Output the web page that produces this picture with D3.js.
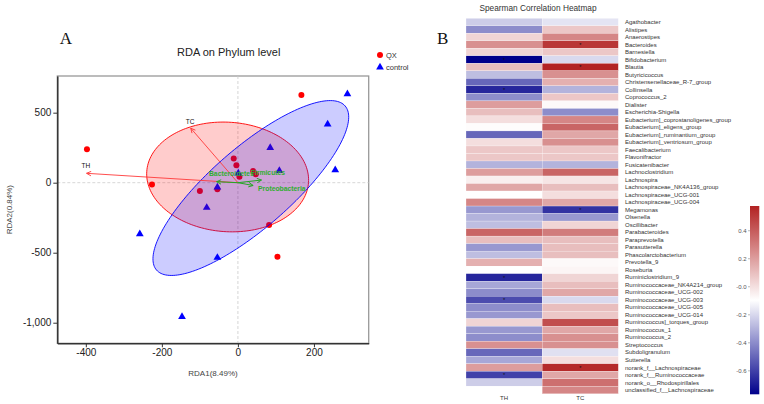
<!DOCTYPE html>
<html>
<head>
<meta charset="utf-8">
<script src="https://cdn.jsdelivr.net/npm/d3@7"></script>
<style>
body { margin: 0; background: #fff; }
text { font-family: "Liberation Sans", Arial, sans-serif; }
</style>
</head>
<body>
<div id="chart"></div>
<script>
// ---- Panel A data (RDA) ----
const qxX = [-397, -226, -100, -54, -11, -4, 4, 40, 47, 82, 104, 167];
const qxY = [239, -12, -59, -47, 172, 124, 43, 84, 60, -302, -528, 626];
const ctrlX = [-258, -147, -82, -54, -54, 1, 85, 109, 236, 256, 288];
const ctrlY = [-366, -957, -178, -33, -535, 67, 250, 86, 417, 91, 634];

const envNames = ["TH", "TC"];
const envX = [-398, -124];
const envY = [67, 389];
const envLabelX = [-400, -126];
const envLabelY = [121, 436];

const phylumNames = ["Bacteroidetes", "Firmicutes", "Proteobacteria"];
const phylumX = [-56, 62, 40];
const phylumY = [7, 19, -20];
const phylumLabelX = [-17, 79, 53];
const phylumLabelY = [67, 71, -44];

// confidence ellipses: centre + two semi-axis vectors, data units
const ellipseGroups = ["QX", "control"];
const ellipseCX = [-27, 34];
const ellipseCY = [41, -38];
const ellipseU = [[212.7, -40], [248, 586]];
const ellipseV = [[-10, -390], [69, -216]];

const xTicks = [-400, -200, 0, 200];
const yTicks = [-1000, -500, 0, 500];

// ---- Panel B data (heatmap) ----
const genera = ["Agathobacter", "Alistipes", "Anaerostipes", "Bacteroides", "Barnesiella",
  "Bifidobacterium", "Blautia", "Butyricicoccus", "Christensenellaceae_R-7_group", "Collinsella",
  "Coprococcus_2", "Dialister", "Escherichia-Shigella", "Eubacterium]_coprostanoligenes_group",
  "Eubacterium]_eligens_group", "Eubacterium]_ruminantium_group", "Eubacterium]_ventriosum_group",
  "Faecalibacterium", "Flavonifractor", "Fusicatenibacter", "Lachnoclostridium", "Lachnospira",
  "Lachnospiraceae_NK4A136_group", "Lachnospiraceae_UCG-001", "Lachnospiraceae_UCG-004",
  "Megamonas", "Olsenella", "Oscillibacter", "Parabacteroides", "Paraprevotella", "Parasutterella",
  "Phascolarctobacterium", "Prevotella_9", "Roseburia", "Ruminiclostridium_9",
  "Ruminococcaceae_NK4A214_group", "Ruminococcaceae_UCG-002", "Ruminococcaceae_UCG-003",
  "Ruminococcaceae_UCG-005", "Ruminococcaceae_UCG-014", "Ruminococcus]_torques_group",
  "Ruminococcus_1", "Ruminococcus_2", "Streptococcus", "Subdoligranulum", "Sutterella",
  "norank_f__Lachnospiraceae", "norank_f__Ruminococcaceae", "norank_o__Rhodospirillales",
  "unclassified_f__Lachnospiraceae"];
const factors = ["TH", "TC"];
const corrTH = [-0.23, -0.40, 0.03, 0.24, 0.03, -0.77, 0.10, -0.27, -0.50, -0.67,
  -0.40, 0.20, 0.10, 0.00, -0.09, -0.50, 0.00, 0.07, 0.07, -0.30,
  0.20, -0.05, 0.17, -0.10, 0.27, -0.37, -0.30, -0.27, 0.37, 0.10,
  -0.37, -0.27, 0.14, -0.10, -0.67, -0.33, -0.40, -0.57, -0.40, -0.37,
  0.03, -0.37, -0.40, 0.24, -0.50, -0.33, 0.20, -0.60, -0.23, -0.10];
const corrTC = [-0.17, 0.07, 0.27, 0.51, 0.07, -0.20, 0.57, 0.24, 0.14, -0.30,
  0.07, -0.08, -0.40, 0.27, 0.37, 0.17, 0.24, 0.07, 0.07, -0.30,
  0.37, -0.02, 0.10, 0.00, 0.17, -0.64, -0.37, 0.03, 0.30, 0.10,
  0.10, 0.10, -0.08, -0.07, 0.03, 0.10, 0.17, -0.20, 0.10, 0.07,
  0.44, 0.17, 0.24, 0.24, -0.18, 0.00, 0.55, 0.17, 0.34, 0.27];
const starTH = ["Bifidobacterium", "Collinsella", "Ruminiclostridium_9", "Ruminococcaceae_UCG-003", "norank_f__Ruminococcaceae"];
const starTC = ["Bacteroides", "Blautia", "Megamonas", "norank_f__Lachnospiraceae"];
const colorMin = -0.771, colorMax = 0.573;
const colorTicks = [-0.6, -0.4, -0.2, 0, 0.2, 0.4];
const colorTickLabels = ["-0.6", "-0.4", "-0.2", "-0.0", "0.2", "0.4"];

const width = 764, height = 404;
const svg = d3.select('#chart').append('svg')
  .attr('width', width).attr('height', height)
  .style('background', 'white');

// ================= Panel A =================
const plot = {left: 57.3, right: 368.7, top: 76, bottom: 343.3};
const xScale = d3.scaleLinear().domain([-475, 344]).range([plot.left, plot.right]);
const yScale = d3.scaleLinear().domain([-1147, 762]).range([plot.bottom, plot.top]);
const fmt = d => d3.format(",")(d).replace("\u2212", "-");

svg.append('text').text('A')
  .attr('x', 66).attr('y', 44).attr('text-anchor', 'middle')
  .style('font-family', '"Liberation Serif", "Times New Roman", serif')
  .style('font-size', '17px').attr('fill', '#111');

svg.append('text').text('RDA on Phylum level')
  .attr('x', 228.7).attr('y', 55.5).attr('text-anchor', 'middle')
  .style('font-size', '11px').attr('fill', '#222');

// frame
svg.append('rect')
  .attr('x', plot.left).attr('y', plot.top)
  .attr('width', plot.right - plot.left).attr('height', plot.bottom - plot.top)
  .attr('fill', 'none').attr('stroke', '#999').attr('stroke-width', 1.3);

// zero lines
svg.append('line')
  .attr('x1', xScale(0)).attr('x2', xScale(0)).attr('y1', plot.top).attr('y2', plot.bottom)
  .attr('stroke', '#ccc').attr('stroke-width', 0.8).attr('stroke-dasharray', '3,2');
svg.append('line')
  .attr('x1', plot.left).attr('x2', plot.right).attr('y1', yScale(0)).attr('y2', yScale(0))
  .attr('stroke', '#ccc').attr('stroke-width', 0.8).attr('stroke-dasharray', '3,2');

// axes
const xAxis = svg.append('g')
  .attr('transform', `translate(0,${plot.bottom})`)
  .call(d3.axisBottom(xScale).tickValues(xTicks).tickFormat(fmt).tickSize(4).tickPadding(2).tickSizeOuter(0));
const yAxis = svg.append('g')
  .attr('transform', `translate(${plot.left},0)`)
  .call(d3.axisLeft(yScale).tickValues(yTicks).tickFormat(fmt).tickSize(4).tickPadding(2).tickSizeOuter(0));
[xAxis, yAxis].forEach(a => {
  a.select('.domain').attr('stroke', '#333').attr('stroke-width', 1.5);
  a.selectAll('.tick line').attr('stroke', '#333');
  a.selectAll('text').style('font-size', '10px').attr('fill', '#222')
    .style('font-family', '"Liberation Sans", Arial, sans-serif');
});

svg.append('text').text('RDA1(8.49%)')
  .attr('x', (plot.left + plot.right) / 2).attr('y', 375.5).attr('text-anchor', 'middle')
  .style('font-size', '8px').attr('fill', '#444');
svg.append('text').text('RDA2(0.84%)')
  .attr('transform', 'rotate(-90)')
  .attr('x', -(plot.top + plot.bottom) / 2).attr('y', 12).attr('text-anchor', 'middle')
  .style('font-size', '8px').attr('fill', '#444');

// points
svg.append('g').selectAll('circle')
  .data(d3.range(qxX.length)).join('circle')
  .attr('cx', i => xScale(qxX[i])).attr('cy', i => yScale(qxY[i]))
  .attr('r', 3).attr('fill', '#ff0000');
const tri = d3.symbol(d3.symbolTriangle).size(26);
svg.append('g').selectAll('path')
  .data(d3.range(ctrlX.length)).join('path')
  .attr('d', tri)
  .attr('transform', i => `translate(${xScale(ctrlX[i])},${yScale(ctrlY[i])})`)
  .attr('fill', '#0000ff');

// ellipses
const ellipseColors = ['#ff0000', '#0000ff'];
const ellLine = d3.line().curve(d3.curveLinearClosed);
ellipseGroups.forEach((g, k) => {
  const pts = d3.range(0, 2 * Math.PI, Math.PI / 90).map(t => [
    xScale(ellipseCX[k] + ellipseU[k][0] * Math.cos(t) + ellipseV[k][0] * Math.sin(t)),
    yScale(ellipseCY[k] + ellipseU[k][1] * Math.cos(t) + ellipseV[k][1] * Math.sin(t))
  ]);
  svg.append('path')
    .attr('d', ellLine(pts))
    .attr('fill', ellipseColors[k]).attr('fill-opacity', 0.2)
    .attr('stroke', ellipseColors[k]).attr('stroke-width', 0.9);
});

// arrows
const defs = svg.append('defs');
[['arrRed', '#ff3a3a'], ['arrGreen', '#22a722']].forEach(([id, c]) => {
  defs.append('marker').attr('id', id)
    .attr('viewBox', '0 0 8 8').attr('refX', 7).attr('refY', 4)
    .attr('markerWidth', 6).attr('markerHeight', 6)
    .attr('markerUnits', 'userSpaceOnUse').attr('orient', 'auto')
    .append('path').attr('d', 'M1,1 L7,4 L1,7')
    .attr('fill', 'none').attr('stroke', c).attr('stroke-width', 1.2);
});

envNames.forEach((n, i) => {
  svg.append('line')
    .attr('x1', xScale(0)).attr('y1', yScale(0))
    .attr('x2', xScale(envX[i])).attr('y2', yScale(envY[i]))
    .attr('stroke', '#ff3a3a').attr('stroke-width', 0.9)
    .attr('marker-end', 'url(#arrRed)');
  svg.append('text').text(n)
    .attr('x', xScale(envLabelX[i])).attr('y', yScale(envLabelY[i]))
    .attr('text-anchor', 'middle').attr('dominant-baseline', 'central')
    .style('font-size', '6.5px').attr('fill', '#111');
});

phylumNames.forEach((n, i) => {
  svg.append('line')
    .attr('x1', xScale(0)).attr('y1', yScale(0))
    .attr('x2', xScale(phylumX[i])).attr('y2', yScale(phylumY[i]))
    .attr('stroke', '#22a722').attr('stroke-width', 1)
    .attr('marker-end', 'url(#arrGreen)');
  svg.append('text').text(n)
    .attr('x', xScale(phylumLabelX[i])).attr('y', yScale(phylumLabelY[i]))
    .attr('text-anchor', i === 2 ? 'start' : 'middle').attr('dominant-baseline', 'central')
    .style('font-size', '6.8px').style('font-weight', 'bold').attr('fill', '#2fae2f');
});

// legend
const legend = svg.append('g').attr('transform', 'translate(380,55)');
legend.append('circle').attr('cx', 0).attr('cy', 0).attr('r', 3).attr('fill', '#ff0000');
legend.append('text').text('QX').attr('x', 6).attr('y', 0).attr('dominant-baseline', 'central')
  .style('font-size', '7.5px').attr('fill', '#333');
legend.append('path').attr('d', tri).attr('transform', 'translate(0,12.3)').attr('fill', '#0000ff');
legend.append('text').text('control').attr('x', 6).attr('y', 12.3).attr('dominant-baseline', 'central')
  .style('font-size', '7.5px').attr('fill', '#333');

// ================= Panel B =================
svg.append('text').text('B')
  .attr('x', 442.7).attr('y', 44).attr('text-anchor', 'middle')
  .style('font-family', '"Liberation Serif", "Times New Roman", serif')
  .style('font-size', '17px').attr('fill', '#111');

svg.append('text').text('Spearman Correlation Heatmap')
  .attr('x', 538).attr('y', 10.5).attr('text-anchor', 'middle')
  .style('font-size', '8.3px').attr('fill', '#333');

const colX = d3.scaleBand().domain(factors).range([466, 618.3]);
const rowY = d3.scaleBand().domain(genera).range([18.3, 393.8]);
const colorMid = (colorMin + colorMax) / 2;
const color = d3.scaleLinear()
  .domain([colorMin, colorMid, colorMax])
  .range(['#00008b', '#ffffff', '#b22222']);

const cells = [];
genera.forEach((g, i) => {
  cells.push({g: g, f: 'TH', v: corrTH[i], star: starTH.includes(g)});
  cells.push({g: g, f: 'TC', v: corrTC[i], star: starTC.includes(g)});
});

svg.append('g').selectAll('rect')
  .data(cells).join('rect')
  .attr('x', d => colX(d.f)).attr('y', d => rowY(d.g))
  .attr('width', colX.bandwidth()).attr('height', rowY.bandwidth())
  .attr('fill', d => color(d.v))
  .attr('stroke', '#fff').attr('stroke-width', 0.25);

svg.append('g').selectAll('text')
  .data(cells.filter(d => d.star)).join('text')
  .text('*')
  .attr('x', d => colX(d.f) + colX.bandwidth() / 2)
  .attr('y', d => rowY(d.g) + rowY.bandwidth() / 2 + 2.2)
  .attr('text-anchor', 'middle')
  .style('font-size', '5.5px').attr('fill', '#111');

svg.append('g').selectAll('text')
  .data(genera).join('text')
  .text(d => d)
  .attr('x', 625).attr('y', d => rowY(d) + rowY.bandwidth() / 2)
  .attr('dominant-baseline', 'central')
  .style('font-size', '6px').attr('fill', '#333');

svg.append('g').selectAll('text')
  .data(factors).join('text')
  .text(d => d)
  .attr('x', d => colX(d) + colX.bandwidth() / 2).attr('y', 400)
  .attr('text-anchor', 'middle')
  .style('font-size', '6px').attr('fill', '#333');

// colour bar
const barScale = d3.scaleLinear().domain([colorMin, colorMax]).range([394.3, 206]);
const grad = defs.append('linearGradient').attr('id', 'cbar')
  .attr('x1', 0).attr('y1', 1).attr('x2', 0).attr('y2', 0);
d3.range(0, 1.0001, 0.05).forEach(t => {
  grad.append('stop').attr('offset', t)
    .attr('stop-color', color(colorMin + t * (colorMax - colorMin)));
});
svg.append('rect')
  .attr('x', 750).attr('y', barScale(colorMax))
  .attr('width', 9.3).attr('height', barScale(colorMin) - barScale(colorMax))
  .attr('fill', 'url(#cbar)');
const cAxis = svg.append('g')
  .attr('transform', 'translate(750,0)')
  .call(d3.axisLeft(barScale).tickValues(colorTicks)
    .tickFormat((d, i) => colorTickLabels[i]).tickSize(2).tickPadding(1.5));
cAxis.select('.domain').remove();
cAxis.selectAll('.tick line').attr('stroke', '#888').attr('stroke-width', 0.6);
cAxis.selectAll('text').style('font-size', '6px').attr('fill', '#555')
  .style('font-family', '"Liberation Sans", Arial, sans-serif');
</script>
</body>
</html>
